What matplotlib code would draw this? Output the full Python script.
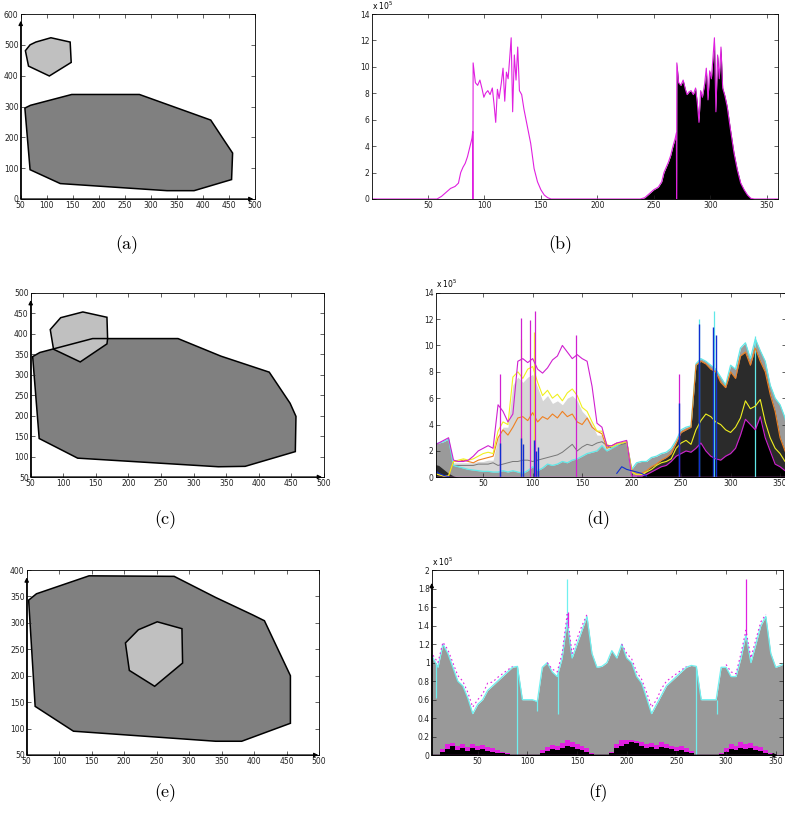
import numpy as np
import matplotlib.pyplot as plt

nan = np.nan

# ---- polygon panels (a), (c), (e) ----
a_big_x = [58, 69, 148, 278, 415, 440, 457, 455, 383, 331, 126, 68]
a_big_y = [295, 304, 339, 339, 256, 192, 149, 63, 27, 27, 50, 95]
a_small_x = [59, 68, 79, 108, 145, 147, 105, 65]
a_small_y = [481, 500, 509, 523, 509, 443, 399, 431]

c_big_x = [53, 64, 145, 276, 342, 416, 448, 457, 456, 379, 338, 122, 63]
c_big_y = [344, 354, 388, 388, 345, 306, 230, 198, 112, 76, 75, 96, 144]
c_small_x = [80, 96, 130, 167, 168, 167, 126, 85]
c_small_y = [410, 439, 453, 440, 388, 375, 331, 362]

e_big_x = [53, 65, 146, 277, 341, 398, 416, 456, 456, 381, 341, 122, 63]
e_big_y = [343, 355, 389, 388, 348, 315, 304, 200, 110, 76, 76, 95, 142]
e_small_x = [202, 222, 251, 289, 290, 247, 208]
e_small_y = [262, 287, 302, 289, 224, 180, 210]

# ---- panel (b): histogram (x 10^5) ----
b_left_x = [0, 58, 62, 66, 70, 74, 77, 79, 81, 83, 85, 87, 89, 89.6, 89.8, 90, 92, 94, 96, 98,
            99.5, 101, 103, 105, 107, 108.5, 110, 111.5, 113, 115, 116.5, 118, 119.5, 121, 122.5,
            123.7, 125, 126.5, 128, 129.5, 131, 133, 135, 138, 141, 144, 147, 150, 153, 156, 159]
b_left = [0, 0, 0.2, 0.5, 0.8, 0.95, 1.2, 2.0, 2.4, 2.7, 3.2, 3.9, 4.6, 5.1, 0, 10.3, 8.8, 8.6, 9.0, 8.3,
          7.7, 8.0, 8.2, 7.9, 8.4, 7.2, 5.8, 8.3, 7.6, 8.8, 9.9, 7.4, 9.6, 9.1, 10.8,
          12.2, 6.6, 10.9, 9.0, 11.5, 8.2, 7.9, 6.8, 5.5, 4.2, 2.3, 1.3, 0.7, 0.3, 0.1, 0]
b_right_x = [238, 242, 246, 250, 254, 257, 259, 261, 263, 265, 267, 269, 270, 270.2, 270.4, 272, 274,
             276, 278, 279.5, 281, 283, 285, 287, 288.5, 290, 291.5, 293, 295, 296.5, 298, 299.5,
             301, 302.5, 303.7, 305, 306.5, 308, 309.5, 311, 313, 315, 318, 321, 324, 327, 330,
             333, 336, 339, 360]
b_right = [0, 0.1, 0.4, 0.7, 0.9, 1.3, 2.0, 2.4, 2.8, 3.3, 4.0, 4.6, 5.0, 0, 10.3, 8.8, 8.6,
           9.0, 8.3, 7.9, 8.1, 8.2, 7.9, 8.4, 7.3, 5.8, 8.2, 7.7, 8.7, 9.9, 7.5, 9.7,
           9.1, 10.8, 12.2, 6.6, 10.9, 9.1, 11.5, 8.4, 7.8, 7.0, 5.2, 3.5, 2.2, 1.2, 0.7,
           0.3, 0.05, 0, 0]

# ---- panel (d): several histograms on a 5-degree grid (x 10^5) ----
d_x = np.arange(0, 361, 5)
d_cyan = [2.5, 2.6, 2.7, 2.9, 0.9, 0.8, 0.7, 0.6, 0.55, 0.5,
          0.45, 0.45, 0.4, 0.4, 0.5, 0.4, 0.5, 0.4, 0.3, 0.5,
          0.8, 0.5, 0.7, 1.0, 0.9, 1.0, 1.2, 1.1, 1.3, 1.4,
          1.6, 1.8, 1.9, 2.0, 2.4, 2.0, 2.2, 2.4, 2.6, 2.7,
          0.6, 1.1, 1.2, 1.2, 1.5, 1.6, 1.8, 1.9, 2.2, 2.8,
          3.6, 3.8, 3.9, 8.6, 9.0, 8.8, 8.5, 8.2, 7.6, 7.0,
          8.5, 8.2, 9.8, 10.2, 9.0, 10.5, 9.6, 8.8, 7.0, 6.0,
          5.5, 4.5, 2.5]
d_light = [0, 0, 0, 0, 1.1, 1.1, 1.1, 1.1, 1.1, 1.2,
           1.2, 1.3, 1.3, 3.0, 3.8, 3.8, 7.0, 7.6, 7.2, 7.6,
           7.8, 6.8, 5.8, 6.2, 5.6, 5.8, 5.5, 6.0, 6.2, 5.8,
           5.0, 4.6, 4.0, 3.2, 3.2, 2.4, 2.4, 2.5, 2.6, 2.7,
           0, 0, 0, 0, 0, 0, 0, 0, 0, 0,
           0, 0, 0, 0, 0, 0, 0, 0, 0, 0,
           0, 0, 0, 0, 0, 0, 0, 0, 0, 0,
           0, 0, 0]
d_dark = [1.0, 0.9, 0.6, 0.3, 0.1, 0, 0, 0, 0, 0,
          0, 0, 0, 0, 0, 0, 0, 0, 0, 0,
          0, 0, 0, 0, 0, 0, 0, 0, 0, 0,
          0, 0, 0, 0, 0, 0, 0, 0, 0, 0,
          0, 0, 0, 0.5, 0.8, 1.0, 1.3, 1.5, 1.8, 2.6,
          3.4, 3.6, 3.8, 8.5, 8.8, 8.6, 8.2, 8.0, 7.2, 6.8,
          8.0, 7.5, 9.2, 9.5, 8.5, 9.8, 8.8, 8.0, 6.3, 5.0,
          3.0, 2.0, 1.0]
d_orange = [0.3, 0.2, 0.1, 0.1, 1.2, 1.2, 1.3, 1.2, 1.1, 1.3,
            1.4, 1.5, 1.6, 3.0, 3.6, 3.2, 3.8, 4.5, 4.6, 4.3,
            4.9, 4.2, 4.6, 4.4, 4.8, 4.5, 5.0, 4.6, 4.8, 4.2,
            4.0, 4.5, 3.8, 3.5, 3.3, 2.2, 2.4, 2.6, 2.6, 2.7,
            0.6, 0.2, 0.3, 0.5, 0.8, 1.0, 1.3, 1.5, 1.8, 2.6,
            3.4, 3.6, 3.8, 8.5, 8.8, 8.6, 8.2, 8.0, 7.2, 6.8,
            8.0, 7.5, 9.2, 9.5, 8.5, 9.8, 8.8, 8.0, 6.3, 5.0,
            3.0, 2.0, 1.0]
d_yellow = [0.3, 0.2, 0.1, 0.1, 1.2, 1.3, 1.4, 1.3, 1.4, 1.6,
            1.8, 1.9, 1.8, 3.5, 4.2, 4.0, 7.6, 8.0, 7.5, 8.2,
            8.4, 7.2, 6.2, 6.6, 6.0, 6.3, 5.8, 6.4, 6.7, 6.2,
            5.3, 5.0, 4.2, 3.5, 3.5, 2.5, 2.3, 2.5, 2.6, 2.7,
            0.4, 0.2, 0.2, 0.4, 0.6, 0.9, 1.1, 1.2, 1.4, 2.2,
            2.6, 2.8, 2.5, 3.6, 4.3, 4.8, 4.6, 4.2, 4.0, 3.6,
            3.4, 3.8, 4.5, 5.8, 5.2, 5.4, 5.9, 4.2, 3.0, 2.2,
            1.8, 1.2, 1.0]
d_magenta = [2.4, 2.6, 2.8, 3.0, 1.3, 1.2, 1.2, 1.3, 1.6, 2.0,
             2.2, 2.4, 2.2, 5.5, 5.0, 4.2, 4.8, 8.8, 9.0, 8.7,
             9.0, 8.2, 7.9, 8.3, 8.9, 9.2, 10.0, 9.5, 9.0, 9.3,
             9.0, 8.8, 6.9, 4.1, 3.8, 2.4, 2.4, 2.6, 2.7, 2.8,
             0.1, 0.1, 0.1, 0.2, 0.4, 0.6, 0.8, 0.9, 1.2, 1.6,
             1.8, 2.0, 1.9, 2.2, 2.6, 2.0, 1.6, 1.4, 1.3, 1.6,
             1.8, 2.2, 3.2, 4.4, 4.0, 3.6, 4.6, 3.0, 2.0, 1.0,
             0.8, 0.5, 0.3]
d_grayline = [nan, nan, nan, nan, 0.9, 0.9, 0.9, 0.9, 0.9, 1.0,
              1.0, 1.0, 1.1, 0.9, 1.0, 1.1, 1.2, 1.2, 1.3, 1.3,
              1.2, 1.3, 1.4, 1.5, 1.6, 1.7, 1.9, 2.2, 2.5, 2.0,
              2.3, 2.5, 2.4, 2.6, 2.7, 2.4, 2.2, 2.4, 2.5, 2.6] + [nan] * 33
d_blue = [0.6, 0.3, 0.15, 0.05] + [nan] * 33 + [0.3, 0.8, 0.6, 0.5, 0.4, 0.3, 0.1] + [nan] * 29
d_blue_spk_x = [67, 88, 90, 101, 103, 105, 248, 268, 282, 285]
d_blue_spk = [2.6, 3.0, 2.5, 2.8, 2.0, 2.3, 5.6, 11.6, 11.4, 10.8]
d_mag_spk_x = [67, 88, 97, 102, 144, 248]
d_mag_spk = [7.8, 12.1, 11.9, 12.6, 10.8, 7.8]
d_yel_spk_x = [88, 101]
d_yel_spk = [10.5, 11.0]
d_cyan_spk_x = [268, 283, 325]
d_cyan_spk = [12.0, 12.6, 10.7]

# ---- panel (f) (x 10^5) ----
f_x = np.arange(0, 361, 5)
f_top = [1.15, 1.05, 0.95, 1.2, 1.1, 0.95, 0.8, 0.75, 0.62, 0.45,
         0.55, 0.6, 0.7, 0.75, 0.8, 0.85, 0.9, 0.95, 0.96, 0.6,
         0.6, 0.6, 0.58, 0.95, 1.0, 0.9, 0.85, 1.05, 1.45, 1.05,
         1.2, 1.35, 1.5, 1.1, 0.95, 0.96, 1.0, 1.13, 1.05, 1.2,
         1.05, 1.0, 0.85, 0.78, 0.62, 0.45, 0.55, 0.65, 0.75, 0.8,
         0.85, 0.9, 0.95, 0.97, 0.96, 0.6, 0.6, 0.6, 0.6, 0.95,
         0.95, 0.85, 0.85, 1.05, 1.3, 1.0, 1.2, 1.4, 1.5, 1.1,
         0.95, 0.97, 1.0]
f_mag = [nan, 1.08, 1.0, 1.22, 1.14, 1.0, 0.86, 0.8, 0.68, 0.52,
         0.6, 0.66, 0.78, 0.79, 0.84, 0.88, 0.92, 0.96, nan, nan,
         nan, nan, nan, nan, 1.0, 0.93, 0.9, 1.1, 1.52, 1.1,
         1.26, 1.4, 1.52, nan, nan, nan, nan, nan, nan, 1.2,
         1.1, 1.04, 0.9, 0.82, 0.68, 0.52, 0.6, 0.72, 0.8, 0.84,
         0.88, 0.92, 0.96, nan, nan, nan, nan, nan, nan, nan,
         0.98, 0.9, 0.88, 1.1, 1.35, 1.05, 1.25, 1.44, 1.52, nan,
         nan, nan, nan]
f_mag_spk_x = [141, 320]
f_mag_lo = [1.4, 1.3]
f_mag_hi = [1.55, 1.9]
f_black = [0, 0, 0, 0.04, 0.07, 0.1, 0.06, 0.08, 0.05, 0.08,
           0.06, 0.07, 0.05, 0.04, 0.03, 0.02, 0.01, 0, 0, 0,
           0, 0, 0, 0.03, 0.05, 0.07, 0.06, 0.08, 0.1, 0.09,
           0.07, 0.06, 0.04, 0.01, 0, 0, 0, 0.02, 0.08, 0.1,
           0.12, 0.14, 0.13, 0.1, 0.08, 0.09, 0.07, 0.09, 0.08, 0.07,
           0.05, 0.06, 0.04, 0.02, 0, 0, 0, 0, 0, 0.01,
           0.04, 0.07, 0.06, 0.08, 0.07, 0.08, 0.06, 0.05, 0.03, 0.01,
           0, 0, 0]
f_pink = [0, 0, 0, 0.07, 0.12, 0.13, 0.1, 0.12, 0.09, 0.12,
          0.1, 0.11, 0.09, 0.08, 0.06, 0.04, 0.02, 0, 0, 0,
          0, 0, 0, 0.06, 0.09, 0.11, 0.1, 0.13, 0.17, 0.14,
          0.12, 0.1, 0.08, 0.03, 0, 0, 0, 0.04, 0.12, 0.16,
          0.17, 0.16, 0.15, 0.14, 0.12, 0.13, 0.11, 0.14, 0.12, 0.1,
          0.09, 0.1, 0.08, 0.05, 0, 0, 0, 0, 0, 0.03,
          0.08, 0.12, 0.1, 0.14, 0.12, 0.13, 0.1, 0.09, 0.06, 0.03,
          0, 0, 0]
f_drop_x = [8, 90, 110, 131, 140, 270, 291]
f_drop_lo = [0.62, 0.0, 0.48, 0.45, 1.4, 0.0, 0.45]
f_drop_hi = [1.0, 0.96, 0.6, 0.9, 1.9, 0.96, 0.6]

panel_labels = ['(a)', '(b)', '(c)', '(d)', '(e)', '(f)']

W, H = 785, 819
fig = plt.figure(figsize=(W / 100, H / 100), dpi=100)


def add_ax(left, top, right, bottom):
    ax = fig.add_axes([left / W, 1 - bottom / H, (right - left) / W, (bottom - top) / H])
    ax.tick_params(direction='in', length=3, width=0.5, top=True, right=True,
                   labelsize=5.5, pad=1.5, colors='#222')
    for s in ax.spines.values():
        s.set_linewidth(0.6)
    return ax


def arrows(ax, x0, y0, xe, ye):
    kw = dict(arrowstyle='-|>', color='k', lw=0.9, mutation_scale=6, shrinkA=0, shrinkB=0)
    ax.annotate('', xy=(x0, ye), xytext=(x0, y0), arrowprops=kw, annotation_clip=False)
    ax.annotate('', xy=(xe, y0), xytext=(x0, y0), arrowprops=kw, annotation_clip=False)


def polys(ax, bx, by, sx, sy):
    ax.fill(bx, by, facecolor='#808080', edgecolor='none')
    ax.fill(sx, sy, facecolor='#c0c0c0', edgecolor='none')
    ax.fill(bx, by, facecolor='none', edgecolor='k', lw=1.1)
    ax.fill(sx, sy, facecolor='none', edgecolor='k', lw=1.1)


# (a)
ax = add_ax(20.7, 14, 255, 199)
polys(ax, a_big_x, a_big_y, a_small_x, a_small_y)
ax.set_xlim(50, 500); ax.set_ylim(0, 600)
ax.set_xticks(range(50, 501, 50)); ax.set_yticks(range(0, 601, 100))
arrows(ax, 50, 0, 497, 578)

# (c)
ax = add_ax(30.7, 292.7, 324, 477)
polys(ax, c_big_x, c_big_y, c_small_x, c_small_y)
ax.set_xlim(50, 500); ax.set_ylim(50, 500)
ax.set_xticks(range(50, 501, 50)); ax.set_yticks(range(50, 501, 50))
arrows(ax, 50, 50, 497, 482)

# (e)
ax = add_ax(26.7, 570, 319, 755)
polys(ax, e_big_x, e_big_y, e_small_x, e_small_y)
ax.set_xlim(50, 500); ax.set_ylim(50, 400)
ax.set_xticks(range(50, 501, 50)); ax.set_yticks(range(50, 401, 50))
arrows(ax, 50, 50, 499, 386)

# (b)
ax = add_ax(371.5, 14, 778, 199)
ax.fill_between(b_right_x, b_right, color='k', lw=0)
ax.plot(np.concatenate([b_left_x, b_right_x]), np.concatenate([b_left, b_right]),
        color='#e020e0', lw=0.8)
ax.set_xlim(0, 360); ax.set_ylim(0, 14)
ax.set_xticks(range(50, 351, 50)); ax.set_yticks(range(0, 15, 2))
ax.text(0, 1.012, r'x 10$^5$', transform=ax.transAxes, fontsize=5.5, va='bottom')

# (d)
ax = add_ax(435.7, 292.7, 786, 477.3)
ax.fill_between(d_x, d_light, color='#d6d6d6', lw=0)
ax.fill_between(d_x, d_cyan, color='#9a9a9a', lw=0)
ax.fill_between(d_x, d_dark, color='#2b2b2b', lw=0)
ax.fill_between(d_x[41:], d_magenta[41:], color='k', lw=0)
ax.plot(d_x, d_grayline, color='#777777', lw=0.7)
ax.plot(d_x, d_cyan, color='#60e8e8', lw=0.9)
ax.vlines(d_cyan_spk_x, 0, d_cyan_spk, color='#60e8e8', lw=0.9)
ax.plot(d_x, d_orange, color='#f08020', lw=0.8)
ax.plot(d_x, d_yellow, color='#f0f020', lw=0.8)
ax.vlines(d_yel_spk_x, 0, d_yel_spk, color='#f0f020', lw=0.9)
ax.plot(d_x, d_magenta, color='#d020d0', lw=0.8)
ax.vlines(d_mag_spk_x, 0, d_mag_spk, color='#d020d0', lw=0.9)
ax.plot(d_x, d_blue, color='#1030d0', lw=0.8)
ax.vlines(d_blue_spk_x, 0, d_blue_spk, color='#1030d0', lw=1.0)
ax.axhline(0, color='#e060e0', lw=1.0)
ax.set_xlim(2, 356); ax.set_ylim(0, 14)
ax.set_xticks(range(50, 351, 50)); ax.set_yticks(range(0, 15, 2))
ax.text(0, 1.012, r'x 10$^5$', transform=ax.transAxes, fontsize=5.5, va='bottom')

# (f)
ax = add_ax(431.7, 570, 783, 755.3)
ax.fill_between(f_x, f_top, color='#999999', lw=0)
ax.plot(f_x, f_top, color='#70f0f0', lw=0.9)
ax.vlines(f_drop_x, f_drop_lo, f_drop_hi, color='#70f0f0', lw=0.9)
ax.plot(f_x, f_mag, color='#e020e0', lw=0.8, ls=(0, (1.5, 2.5)))
ax.vlines(f_mag_spk_x, f_mag_lo, f_mag_hi, color='#e020e0', lw=0.9)
ax.fill_between(f_x, f_pink, step='mid', color='#e020e0', lw=0)
ax.fill_between(f_x, f_black, step='mid', color='k', lw=0)
ax.axhline(0, color='#c040c0', lw=1.0)
ax.set_xlim(3.7, 357.3); ax.set_ylim(0, 2)
ax.set_xticks(range(50, 351, 50))
ax.set_yticks(np.arange(0, 2.01, 0.2))
ax.set_yticklabels(['0', '0.2', '0.4', '0.6', '0.8', '1', '1.2', '1.4', '1.6', '1.8', '2'])
ax.text(0, 1.012, r'x 10$^5$', transform=ax.transAxes, fontsize=5.5, va='bottom')
arrows(ax, 3.7, 0, 352, 1.86)

# sub-figure captions
label_pos = [(127, 245), (560, 245), (165, 520), (598, 520), (165, 793), (598, 793)]
for lab, (px, py) in zip(panel_labels, label_pos):
    fig.text(px / W, 1 - py / H, lab, fontsize=13, family='cmr10', ha='center', va='center')

fig.savefig('out.png', dpi=100)
